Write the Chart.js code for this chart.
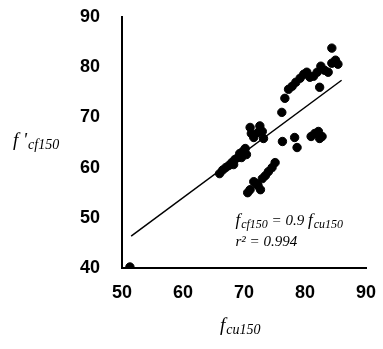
<!DOCTYPE html>
<html>
<head>
<meta charset="utf-8">
<script src="https://cdn.jsdelivr.net/npm/chart.js@4"></script>
<style>
  html, body { margin: 0; padding: 0; background: #fff; }
  #wrap { width: 383px; height: 349px; }
</style>
</head>
<body>
<div id="wrap"><canvas id="fig"></canvas></div>
<script>
// measured strength pairs
const fcu = [51.3,
  66.0, 66.5, 67.0, 67.5, 68.0, 68.5, 69.0, 69.3, 69.8, 70.2, 68.3, 69.6, 70.4,
  71.0, 71.2, 71.6, 72.3, 72.6, 73.0, 73.2,
  70.6, 71.0, 71.6, 72.3, 72.7, 73.0, 73.5, 74.0, 74.6, 75.1, 72.0,
  76.3,
  76.2, 76.7, 77.3, 77.9, 78.5, 79.2, 79.8, 80.3, 80.8, 81.4, 82.0, 82.6, 83.2, 83.8, 84.4, 85.0, 85.4, 84.4, 82.4,
  78.3, 78.7, 81.0, 81.6, 82.2, 82.8, 82.4];
const fcf = [40.2,
  58.8, 59.5, 60.0, 60.4, 61.0, 61.6, 62.0, 62.8, 63.2, 63.8, 60.6, 62.0, 62.6,
  68.0, 66.8, 66.0, 67.0, 68.3, 67.2, 65.8,
  55.0, 55.6, 57.2, 56.4, 55.6, 57.8, 58.4, 59.2, 60.0, 61.0, 56.8,
  65.2,
  71.0, 73.8, 75.6, 76.2, 77.0, 77.8, 78.6, 79.0, 78.0, 78.2, 79.0, 80.2, 79.4, 79.0, 80.8, 81.4, 80.6, 83.8, 76.0,
  66.0, 64.0, 66.2, 66.8, 67.2, 66.2, 65.8];

// regression fcf = 0.9 fcu, drawn over this fcu span
const fitSlope = 0.9;
const fitSpan = [51.5, 86];
const rSquared = '0.994';

const xTicks = [50, 60, 70, 80, 90];
const yTicks = [40, 50, 60, 70, 80, 90];

const points = fcu.map((x, i) => ({ x: x, y: fcf[i] }));
const fitLine = fitSpan.map(x => ({ x: x, y: fitSlope * x }));

// draws "f" followed by a smaller lowered subscript, returns end x
function fSub(ctx, x, y, main, sub, size) {
  ctx.font = 'italic ' + size + 'px "Liberation Serif"';
  ctx.fillText(main, x, y);
  x += ctx.measureText(main).width + 1;
  ctx.font = 'italic ' + Math.round(size * 0.72) + 'px "Liberation Serif"';
  ctx.fillText(sub, x, y + 3);
  return x + ctx.measureText(sub).width;
}

const labels = {
  id: 'labels',
  afterDraw(chart) {
    const ctx = chart.ctx;
    const xs = chart.scales.x, ys = chart.scales.y;
    ctx.save();
    ctx.fillStyle = '#000';
    ctx.textBaseline = 'alphabetic';
    ctx.textAlign = 'left';

    // equation and r²
    let px = xs.getPixelForValue(68.6);
    let py = ys.getPixelForValue(48.6);
    px = fSub(ctx, px, py, 'f', 'cf150', 17);
    ctx.font = 'italic 15px "Liberation Serif"';
    ctx.fillText(' = ' + fitSlope + ' ', px, py);
    px += ctx.measureText(' = ' + fitSlope + ' ').width;
    fSub(ctx, px, py, 'f', 'cu150', 17);
    ctx.font = 'italic 15px "Liberation Serif"';
    ctx.fillText('r² = ' + rSquared, xs.getPixelForValue(68.6), ys.getPixelForValue(44.4));

    // axis titles
    fSub(ctx, 13, 146, "f '", 'cf150', 19);
    fSub(ctx, 220, 331, 'f', 'cu150', 19);
    ctx.restore();
  }
};

new Chart(document.getElementById('fig'), {
  type: 'scatter',
  data: {
    datasets: [
      {
        data: points,
        backgroundColor: '#000',
        borderColor: '#000',
        pointRadius: 4.2,
        pointHoverRadius: 4.2,
      },
      {
        type: 'line',
        data: fitLine,
        borderColor: '#000',
        borderWidth: 1.5,
        pointRadius: 0,
        fill: false,
      },
    ],
  },
  options: {
    responsive: true,
    maintainAspectRatio: false,
    animation: false,
    layout: { padding: { left: 0, right: 17, top: 17, bottom: 0 } },
    plugins: { legend: { display: false }, tooltip: { enabled: false } },
    scales: {
      x: {
        type: 'linear',
        min: 50,
        max: 90,
        afterBuildTicks: s => { s.ticks = xTicks.map(v => ({ value: v })); },
        afterFit: s => { s.height = 81; s.paddingLeft = 0; s.paddingRight = 0; },
        grid: { display: false },
        border: { display: true, color: '#000', width: 2 },
        ticks: {
          color: '#000',
          padding: 6,
          font: { family: 'Arial', weight: 'bold', size: 18 },
        },
      },
      y: {
        type: 'linear',
        min: 40,
        max: 90,
        afterBuildTicks: s => { s.ticks = yTicks.map(v => ({ value: v })); },
        afterFit: s => { s.width = 122; s.paddingTop = 0; s.paddingBottom = 0; },
        grid: { display: false },
        border: { display: true, color: '#000', width: 2 },
        ticks: {
          color: '#000',
          padding: 14,
          font: { family: 'Arial', weight: 'bold', size: 18 },
        },
      },
    },
  },
  plugins: [labels],
});
</script>
</body>
</html>
